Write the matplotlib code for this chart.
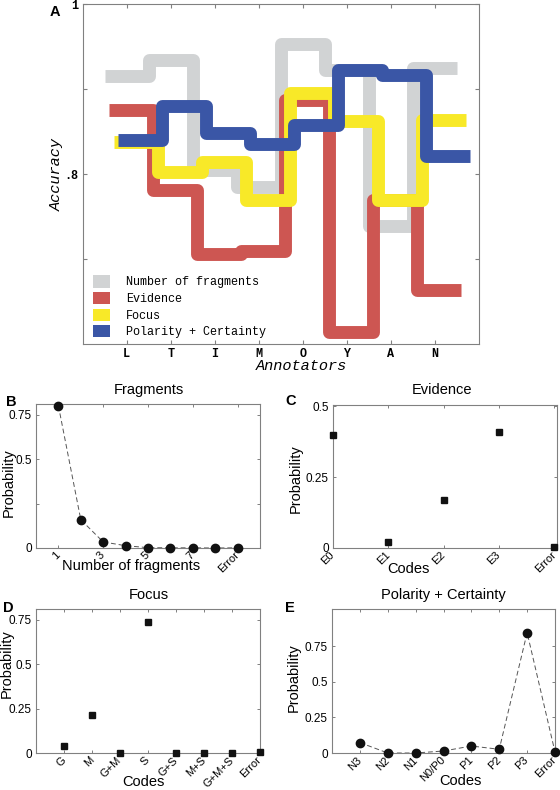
import numpy as np
import matplotlib.pyplot as plt
from matplotlib.patches import Patch

# panel A: accuracy per annotator for each annotation dimension
annotators = ['L', 'T', 'I', 'M', 'O', 'Y', 'A', 'N']
acc_fragments = [0.916, 0.935, 0.805, 0.785, 0.953, 0.923, 0.739, 0.925]
acc_evidence = [0.876, 0.781, 0.706, 0.710, 0.887, 0.615, 0.770, 0.664]
acc_focus = [0.838, 0.803, 0.814, 0.770, 0.896, 0.863, 0.770, 0.864]
acc_polarity = [0.840, 0.880, 0.849, 0.836, 0.858, 0.923, 0.917, 0.821]
series_names = ['Number of fragments', 'Evidence', 'Focus', 'Polarity + Certainty']
series_colors = ['#d1d3d4', '#cd5652', '#f8e928', '#3a56a6']

# panels B-E: probability distributions
frag_ticklabels = ['1', '3', '5', '7', 'Error']
frag_prob = [0.80, 0.159, 0.034, 0.013, 0.002, 0.001, 0.001, 0.0, 0.001]
evid_codes = ['E0', 'E1', 'E2', 'E3', 'Error']
evid_prob = [0.400, 0.022, 0.170, 0.409, 0.005]
focus_codes = ['G', 'M', 'G+M', 'S', 'G+S', 'M+S', 'G+M+S', 'Error']
focus_prob = [0.041, 0.212, 0.0, 0.739, 0.002, 0.0, 0.001, 0.005]
pol_codes = ['N3', 'N2', 'N1', 'N0/P0', 'P1', 'P2', 'P3', 'Error']
pol_prob = [0.073, 0.0, 0.0, 0.014, 0.049, 0.026, 0.844, 0.007]

W, H = 560, 790
MONO = 'Liberation Mono'
SANS = 'Liberation Sans'
SPINE = '#808080'

fig = plt.figure(figsize=(W / 100, H / 100), dpi=100)


def rect(l, t, r, b):
    return [l / W, 1 - b / H, (r - l) / W, (b - t) / H]


# ---- panel A ----
axA = fig.add_axes(rect(82.7, 4.3, 478.7, 344.3))
edges = np.arange(len(annotators) + 1) + 0.5
for i, (vals, c) in enumerate(zip([acc_fragments, acc_evidence, acc_focus, acc_polarity], series_colors)):
    axA.stairs(vals, edges + 0.1 * i, baseline=None, fill=False, edgecolor=c,
               lw=9.3, joinstyle='round', capstyle='butt', zorder=2 + i)
axA.set_xlim(0, 9)
axA.set_ylim(0.6, 1.0)
axA.set_xticks(range(1, len(annotators) + 1))
axA.set_xticklabels(annotators, fontfamily=MONO, fontsize=8.5, fontweight='bold')
axA.set_yticks([0.7, 0.8, 0.9, 1.0])
axA.set_yticklabels(['', '.8', '', '1'], fontfamily=MONO, fontsize=8.5, fontweight='bold')
axA.tick_params(direction='in', top=True, right=True, length=3, width=0.8, color=SPINE, pad=3)
for s in axA.spines.values():
    s.set_color(SPINE)
    s.set_linewidth(0.8)
axA.set_xlabel('Annotators', fontfamily=MONO, fontstyle='italic', fontsize=11)
axA.set_ylabel('Accuracy', fontfamily=MONO, fontstyle='italic', fontsize=11)
axA.xaxis.label.set_va('center')
axA.yaxis.label.set_va('center')
axA.xaxis.set_label_coords(0.553, -0.064)
axA.yaxis.set_label_coords(-0.065, 0.5)
handles = [Patch(facecolor=c, edgecolor='none') for c in series_colors]
axA.legend(handles, series_names, loc='lower left', bbox_to_anchor=(0.025, 0.018),
           borderaxespad=0, borderpad=0, frameon=False,
           prop={'family': MONO, 'size': 8.5}, handlelength=1.5, handleheight=1.2,
           handletextpad=1.35, labelspacing=0.3)


# ---- panels B-E ----
def prob_panel(box, ys, marker, ms, dashed, xticks, xticklabels, xlim, ylim, yticks, yticklabels,
               title, xlabel, title_xy, xlabel_xy, ylabel_xy):
    ax = fig.add_axes(rect(*box))
    xs = np.arange(1, len(ys) + 1)
    if dashed:
        ax.plot(xs, ys, color='#555555', lw=0.7, ls=(0, (5, 3)), zorder=2)
    ax.plot(xs, ys, ls='none', marker=marker, ms=ms, color='#111111', clip_on=False, zorder=3)
    ax.set_xlim(*xlim)
    ax.set_ylim(*ylim)
    ax.set_xticks(xticks)
    ax.set_xticklabels(xticklabels, rotation=45, ha='right', va='center',
                       rotation_mode='anchor', fontfamily=SANS, fontsize=8)
    ax.set_yticks(yticks)
    ax.set_yticklabels(yticklabels, fontfamily=SANS, fontsize=8.5)
    ax.tick_params(axis='both', direction='in', top=True, right=True, length=2.5,
                   width=0.7, color=SPINE, pad=3)
    ax.tick_params(axis='x', pad=4)
    for s in ax.spines.values():
        s.set_color(SPINE)
        s.set_linewidth(0.8)
    ax.text(title_xy[0], title_xy[1], title, transform=ax.transAxes, ha='center', va='center',
            fontfamily=SANS, fontsize=10.5)
    ax.set_xlabel(xlabel, fontfamily=SANS, fontsize=10.5)
    ax.set_ylabel('Probability', fontfamily=SANS, fontsize=10.5)
    ax.xaxis.label.set_va('center')
    ax.yaxis.label.set_va('center')
    ax.xaxis.set_label_coords(*xlabel_xy)
    ax.yaxis.set_label_coords(*ylabel_xy)
    return ax


prob_panel((36, 404, 260, 548), frag_prob, 'o', 6, True, [1, 3, 5, 7, 9], frag_ticklabels,
           (0, 10), (0, 0.81), [0, 0.25, 0.5, 0.75], ['0', '', '0.5', '0.75'],
           'Fragments', 'Number of fragments', (0.504, 1.097), (0.424, -0.125), (-0.122, 0.455))
prob_panel((333, 405, 557, 548), evid_prob, 's', 4.8, False, range(1, 6), evid_codes,
           (1, 5.05), (0, 0.505), [0, 0.25, 0.5], ['0', '0.25', '0.5'],
           'Evidence', 'Codes', (0.487, 1.105), (0.339, -0.147), (-0.165, 0.483))
prob_panel((36, 609, 260, 753), focus_prob, 's', 4.8, False, range(1, 9), focus_codes,
           (0, 8), (0, 0.81), [0, 0.25, 0.5, 0.75], ['0', '0.25', '0.5', '0.75'],
           'Focus', 'Codes', (0.504, 1.097), (0.478, -0.201), (-0.129, 0.618))
prob_panel((332, 609, 555, 753), pol_prob, 'o', 6, True, range(1, 9), pol_codes,
           (0, 8), (0, 1.01), [0, 0.25, 0.5, 0.75], ['0', '0.25', '0.5', '0.75'],
           'Polarity + Certainty', 'Codes', (0.498, 1.097), (0.578, -0.194), (-0.170, 0.521))

for letter, x, y in [('A', 55, 12), ('B', 11, 402), ('C', 291, 401), ('D', 8, 608), ('E', 290, 608)]:
    fig.text(x / W, 1 - y / H, letter, ha='center', va='center', fontfamily=SANS,
             fontweight='bold', fontsize=10.5)

fig.savefig('out.png', dpi=100)
